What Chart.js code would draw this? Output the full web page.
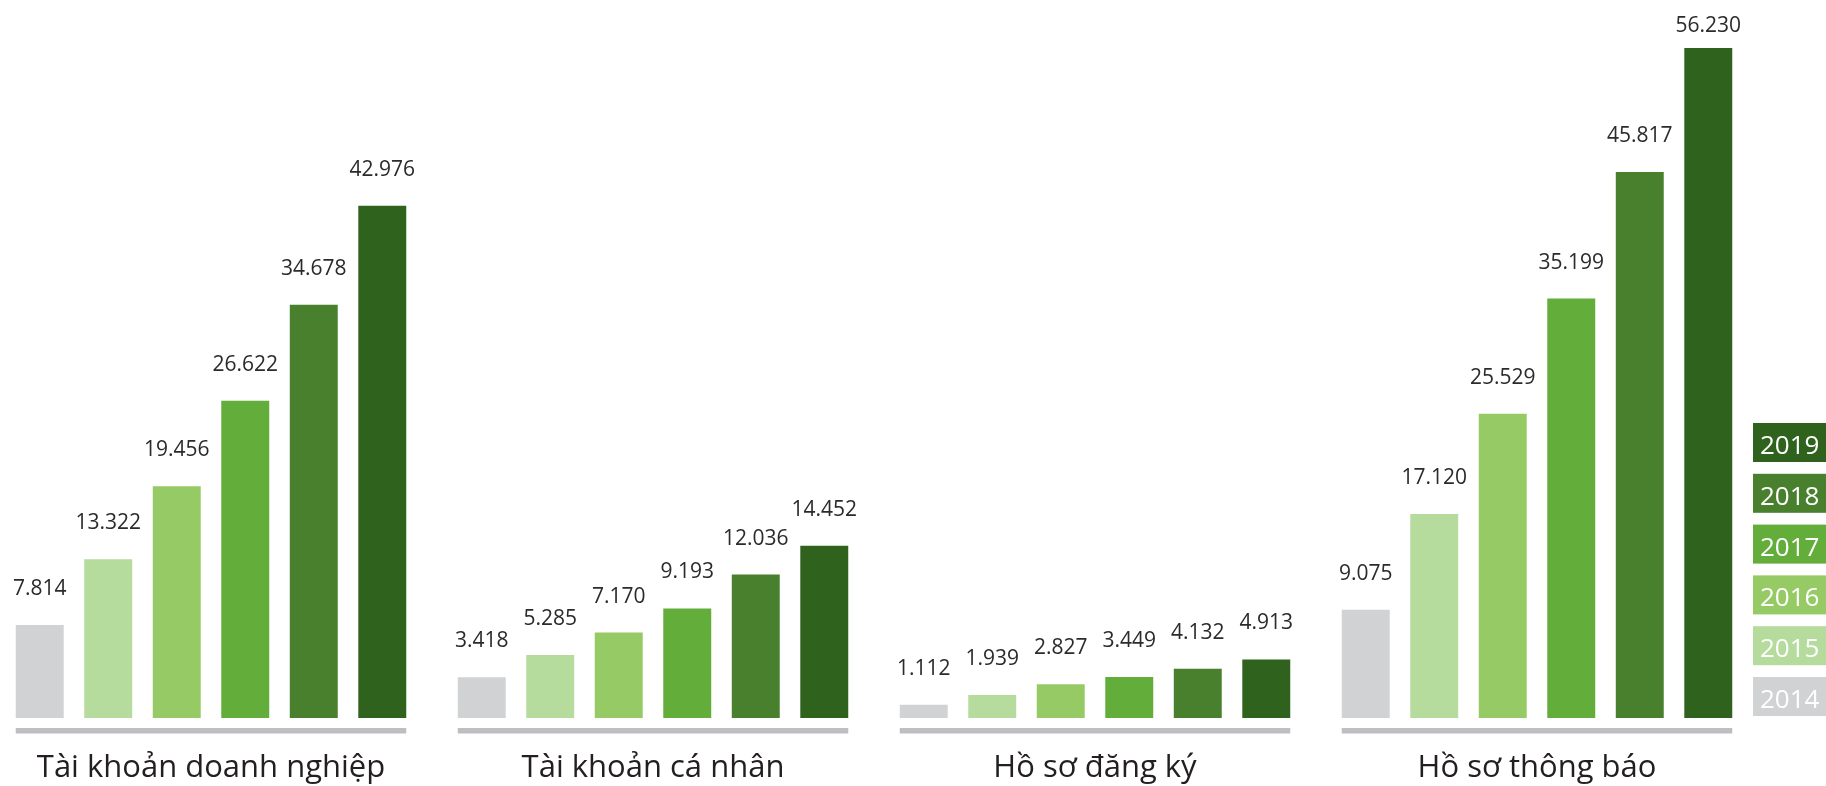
<!DOCTYPE html>
<html>
<head>
<meta charset="utf-8">
<script src="https://cdn.jsdelivr.net/npm/chart.js@4.4.1/dist/chart.umd.min.js"></script>
<style>
  html, body { margin: 0; padding: 0; background: #fff; overflow: hidden; }
  #wrap { position: absolute; left: -10px; top: 0; width: 1836px; height: 786px; }
</style>
</head>
<body>
<div id="wrap"><canvas id="bar-chartcanvas"></canvas></div>
<script>
// categories and years
var categories = ["Tài khoản doanh nghiệp", "Tài khoản cá nhân", "Hồ sơ đăng ký", "Hồ sơ thông báo"];
var years = ["2014", "2015", "2016", "2017", "2018", "2019"];

// values per year, one per category
var v2014 = [7814, 3418, 1112, 9075];
var v2015 = [13322, 5285, 1939, 17120];
var v2016 = [19456, 7170, 2827, 25529];
var v2017 = [26622, 9193, 3449, 35199];
var v2018 = [34678, 12036, 4132, 45817];
var v2019 = [42976, 14452, 4913, 56230];

var series = [v2014, v2015, v2016, v2017, v2018, v2019];
var colors = ["#d1d2d4", "#b5db9d", "#96ca64", "#63ad3b", "#48802d", "#2f631d"];

// 12345 -> "12.345"
function fmt(n) {
    return String(n).replace(/\B(?=(\d{3})+(?!\d))/g, ".");
}

// number above every bar
var valueLabels = {
    id: "valueLabels",
    afterDatasetsDraw: function(chart) {
        var ctx = chart.ctx;
        ctx.save();
        ctx.font = "21px 'Open Sans'";
        ctx.fillStyle = "#2b2b2b";
        ctx.textAlign = "center";
        ctx.textBaseline = "alphabetic";
        chart.data.datasets.forEach(function(ds, i) {
            chart.getDatasetMeta(i).data.forEach(function(bar, j) {
                var y = Math.max(bar.y - 30, 32);
                ctx.fillText(fmt(ds.data[j]), bar.x, y);
            });
        });
        ctx.restore();
    }
};

// grey rule under each group of bars
var groupLines = {
    id: "groupLines",
    afterDatasetsDraw: function(chart) {
        var ctx = chart.ctx;
        var first = chart.getDatasetMeta(0).data;
        var last = chart.getDatasetMeta(chart.data.datasets.length - 1).data;
        ctx.save();
        ctx.fillStyle = "#bdbec1";
        first.forEach(function(bar, j) {
            var x0 = bar.x - bar.width / 2;
            var x1 = last[j].x + last[j].width / 2;
            ctx.fillRect(x0, chart.chartArea.bottom + 10, x1 - x0, 5.5);
        });
        ctx.restore();
    }
};

// year boxes on the right, newest on top
var yearLegend = {
    id: "yearLegend",
    afterDraw: function(chart) {
        var ctx = chart.ctx;
        var boxX = chart.width - 73;
        var boxH = 39;
        var step = 50.8;
        var bottom = chart.chartArea.bottom - 2;
        ctx.save();
        ctx.font = "26px 'Open Sans'";
        ctx.textAlign = "left";
        ctx.textBaseline = "alphabetic";
        chart.data.datasets.forEach(function(ds, i) {
            var top = bottom - boxH - i * step;
            ctx.fillStyle = ds.backgroundColor;
            ctx.fillRect(boxX, top, 73, boxH);
            ctx.fillStyle = "#ffffff";
            ctx.fillText(ds.label, boxX + 7, top + 31);
        });
        ctx.restore();
    }
};

var data = {
    labels: categories,
    datasets: years.map(function(y, i) {
        return {
            label: y,
            data: series[i],
            backgroundColor: colors[i],
            barPercentage: 0.70,
            categoryPercentage: 0.93
        };
    })
};

var options = {
    responsive: true,
    maintainAspectRatio: false,
    animation: false,
    layout: { padding: { left: 0, right: 68, top: 0, bottom: 0 } },
    plugins: {
        legend: { display: false },
        tooltip: { enabled: false }
    },
    scales: {
        x: {
            grid: { display: false, drawTicks: false },
            border: { display: false },
            afterFit: function(scale) { scale.height = 68; },
            ticks: {
                padding: 32,
                color: "#231f20",
                maxRotation: 0,
                font: { family: "'Open Sans'", size: 31, lineHeight: 1.16 }
            }
        },
        y: {
            display: false,
            min: 0,
            max: 60250
        }
    }
};

var chart = new Chart(document.getElementById("bar-chartcanvas"), {
    type: "bar",
    data: data,
    options: options,
    plugins: [groupLines, valueLabels, yearLegend]
});
</script>
</body>
</html>
